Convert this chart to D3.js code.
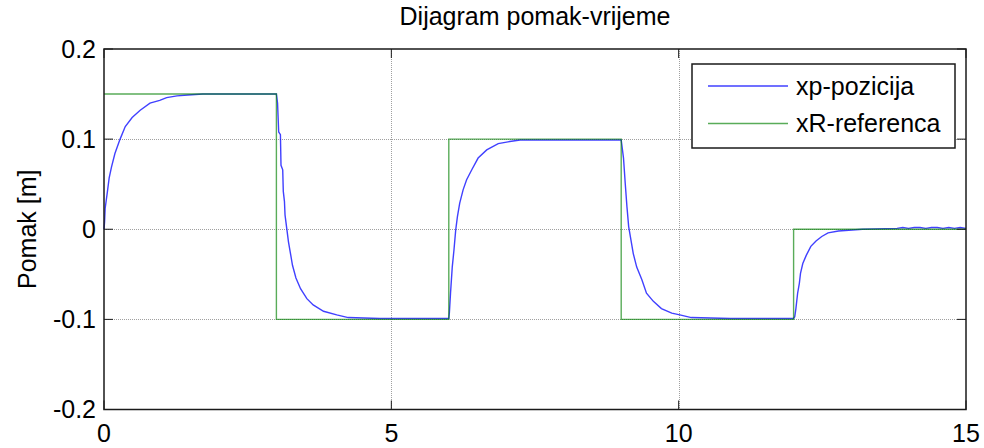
<!DOCTYPE html>
<html>
	<head>
		<meta charset="utf-8">
		<script src="https://cdn.jsdelivr.net/npm/d3@7/dist/d3.min.js"></script>
		<style>
			body {
				margin: 0;
				background: white;
			}
			text {
				font-family: "Liberation Sans", Arial, sans-serif;
			}
		</style>
	</head>
	<body>
		<div id="chart"></div>
		<script type="text/javascript">
			// chart data
			var xTicks = [0, 5, 10, 15];
			var yTicks = [-0.2, -0.1, 0, 0.1, 0.2];
			var yTickLabels = ["-0.2", "-0.1", "0", "0.1", "0.2"];

			// reference signal xR (steps)
			var refTime  = [0, 3, 3, 6, 6, 9, 9, 12, 12, 15];
			var refValue = [0.15, 0.15, -0.1, -0.1, 0.1, 0.1, -0.1, -0.1, 0, 0];

			// measured position xp
			var posTime = [
				0, 0.01, 0.02, 0.06, 0.09, 0.13, 0.19, 0.28, 0.37, 0.49, 0.63, 0.80, 0.97, 1.09, 1.27, 1.46, 1.72,
				3.0, 3.02, 3.04, 3.07, 3.08, 3.11, 3.12, 3.14, 3.15, 3.18, 3.21, 3.24, 3.28, 3.34, 3.42, 3.53, 3.64, 3.82, 4.05, 4.25, 4.8,
				6.0, 6.01, 6.03, 6.06, 6.09, 6.12, 6.15, 6.19, 6.25, 6.31, 6.40, 6.51, 6.66, 6.86, 7.03, 7.24,
				9.0, 9.04, 9.07, 9.10, 9.13, 9.17, 9.21, 9.27, 9.36, 9.44, 9.56, 9.70, 9.88, 10.02, 10.22, 10.9,
				12.0, 12.02, 12.04, 12.07, 12.10, 12.12, 12.16, 12.22, 12.30, 12.39, 12.49, 12.60, 12.78, 13.2,
				13.8, 13.9, 14.0, 14.1, 14.2, 14.3, 14.4, 14.5, 14.6, 14.7, 14.8, 14.9, 15.0
			];
			var posValue = [
				0, 0.008, 0.023, 0.042, 0.057, 0.069, 0.084, 0.100, 0.114, 0.124, 0.132, 0.140, 0.143, 0.146, 0.148, 0.149, 0.150,
				0.150, 0.140, 0.108, 0.105, 0.071, 0.066, 0.042, 0.031, 0.016, 0.001, -0.014, -0.025, -0.040, -0.054, -0.066, -0.077, -0.084, -0.091, -0.095, -0.098, -0.099,
				-0.099, -0.093, -0.071, -0.042, -0.023, -0.001, 0.014, 0.029, 0.044, 0.055, 0.066, 0.079, 0.088, 0.095, 0.097, 0.099,
				0.099, 0.079, 0.051, 0.025, 0.003, -0.012, -0.027, -0.042, -0.056, -0.071, -0.080, -0.088, -0.093, -0.095, -0.098, -0.099,
				-0.099, -0.097, -0.088, -0.071, -0.060, -0.049, -0.038, -0.029, -0.019, -0.013, -0.008, -0.004, -0.002, 0,
				0.001, 0.002, 0.001, 0.002, 0.002, 0.001, 0.002, 0.002, 0.001, 0.002, 0.001, 0.002, 0.001
			];

			var seriesNames = ["xp-pozicija", "xR-referenca"];
			var seriesColors = ["#0000ff", "#008000"];
			var seriesOpacity = [0.75, 0.65];

			/*
			Setup
			*/
			var width = 984, height = 448;
			var plotLeft = 104, plotRight = 966, plotTop = 49, plotBottom = 409.5;

			var svg = d3.select("#chart").append("svg")
				.attr("width", width)
				.attr("height", height);

			var x = d3.scaleLinear().domain([0, 15]).range([plotLeft, plotRight]);
			var y = d3.scaleLinear().domain([-0.2, 0.2]).range([plotBottom, plotTop]);

			//Grid lines (dotted)
			svg.selectAll("line.gx")
				.data(xTicks.slice(1, -1))
				.enter().append("line")
				.attr("x1", function(d){ return Math.round(x(d)) + 0.5; })
				.attr("x2", function(d){ return Math.round(x(d)) + 0.5; })
				.attr("y1", plotTop).attr("y2", plotBottom)
				.attr("stroke", "#a0a0a0")
				.attr("stroke-dasharray", "1,1");

			svg.selectAll("line.gy")
				.data(yTicks.slice(1, -1))
				.enter().append("line")
				.attr("x1", plotLeft).attr("x2", plotRight)
				.attr("y1", function(d){ return Math.round(y(d)) + 0.5; })
				.attr("y2", function(d){ return Math.round(y(d)) + 0.5; })
				.attr("stroke", "#a0a0a0")
				.attr("stroke-dasharray", "1,1");

			//Data lines
			var line = d3.line()
				.x(function(d){ return x(d[0]); })
				.y(function(d){ return y(d[1]); });

			var posData = posTime.map(function(t, i){ return [t, posValue[i]]; });
			var refData = refTime.map(function(t, i){ return [t, refValue[i]]; });

			svg.append("path")
				.datum(posData)
				.attr("d", line)
				.attr("fill", "none")
				.attr("stroke", seriesColors[0])
				.attr("stroke-opacity", seriesOpacity[0])
				.attr("stroke-width", 1.4);

			svg.append("path")
				.datum(refData)
				.attr("d", line)
				.attr("fill", "none")
				.attr("stroke", seriesColors[1])
				.attr("stroke-opacity", seriesOpacity[1])
				.attr("stroke-width", 1.4);

			//Axes box with inward ticks on all sides
			var tickLen = 9;
			var axisColor = "#1a1a1a";

			svg.append("rect")
				.attr("x", plotLeft).attr("y", plotTop)
				.attr("width", plotRight - plotLeft).attr("height", plotBottom - plotTop)
				.attr("fill", "none")
				.attr("stroke", axisColor)
				.attr("stroke-width", 1.5);

			xTicks.forEach(function(d){
				svg.append("line")
					.attr("x1", x(d)).attr("x2", x(d))
					.attr("y1", plotBottom).attr("y2", plotBottom - tickLen)
					.attr("stroke", axisColor);
				svg.append("line")
					.attr("x1", x(d)).attr("x2", x(d))
					.attr("y1", plotTop).attr("y2", plotTop + tickLen)
					.attr("stroke", axisColor);
			});
			yTicks.forEach(function(d){
				svg.append("line")
					.attr("x1", plotLeft).attr("x2", plotLeft + tickLen)
					.attr("y1", y(d)).attr("y2", y(d))
					.attr("stroke", axisColor);
				svg.append("line")
					.attr("x1", plotRight).attr("x2", plotRight - tickLen)
					.attr("y1", y(d)).attr("y2", y(d))
					.attr("stroke", axisColor);
			});

			//Tick labels
			svg.selectAll("text.xt")
				.data(xTicks)
				.enter().append("text")
				.attr("x", function(d){ return x(d); })
				.attr("y", 442)
				.attr("text-anchor", "middle")
				.style("font-size", "25px")
				.text(function(d){ return d; });

			svg.selectAll("text.yt")
				.data(yTicks)
				.enter().append("text")
				.attr("x", 96)
				.attr("y", function(d){ return y(d); })
				.attr("dy", "0.35em")
				.attr("text-anchor", "end")
				.style("font-size", "25px")
				.text(function(d, i){ return yTickLabels[i]; });

			//Title and axis label
			svg.append("text")
				.attr("x", (plotLeft + plotRight) / 2)
				.attr("y", 25)
				.attr("text-anchor", "middle")
				.style("font-size", "25px")
				.text("Dijagram pomak-vrijeme");

			svg.append("text")
				.attr("transform", "translate(36," + ((plotTop + plotBottom) / 2) + ") rotate(-90)")
				.attr("text-anchor", "middle")
				.style("font-size", "25px")
				.text("Pomak [m]");

			//Legend
			var leg = svg.append("g");
			leg.append("rect")
				.attr("x", 692).attr("y", 64)
				.attr("width", 263).attr("height", 84)
				.attr("fill", "white")
				.attr("stroke", axisColor)
				.attr("stroke-width", 1.5);

			var legY = [86, 123.5];
			seriesNames.forEach(function(name, i){
				leg.append("line")
					.attr("x1", 708).attr("x2", 788)
					.attr("y1", legY[i]).attr("y2", legY[i])
					.attr("stroke", seriesColors[i])
					.attr("stroke-opacity", seriesOpacity[i])
					.attr("stroke-width", 1.4);
				leg.append("text")
					.attr("x", 796)
					.attr("y", legY[i])
					.attr("dy", "0.35em")
					.style("font-size", "25px")
					.text(name);
			});
		</script>
	</body>
</html>
